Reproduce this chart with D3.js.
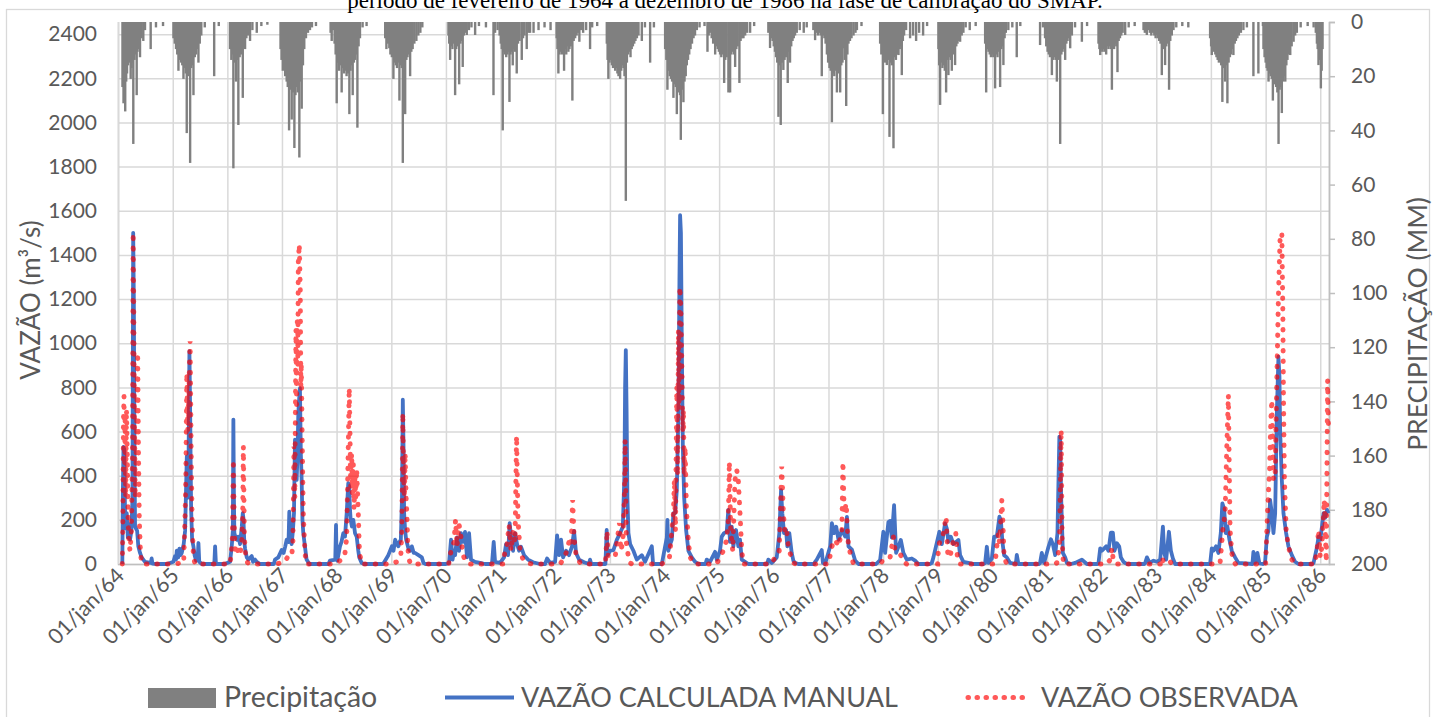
<!DOCTYPE html>
<html>
<head>
<meta charset="utf-8">
<script src="https://cdn.jsdelivr.net/npm/d3@7"></script>
<style>
  body { margin: 0; background: #fff; }
  svg { display: block; }
  text { font-family: Lato, "Open Sans", sans-serif; fill: #595959; }
</style>
</head>
<body>
<div id="grafico"></div>
<script>
// titulo (cortado no topo da figura original)
const titulo = "período de fevereiro de 1964 a dezembro de 1986 na fase de calibração do SMAP.";

// rotulos do eixo x (um por ano)
const anosEixo = [64, 65, 66, 67, 68, 69, 70, 71, 72, 73, 74, 75, 76, 77, 78, 79, 80, 81, 82, 83, 84, 85, 86];
const rotulosX = anosEixo.map((a) => "01/jan/" + a);
const ticksVazao = [0, 200, 400, 600, 800, 1000, 1200, 1400, 1600, 1800, 2000, 2200, 2400];
const ticksPrecip = [0, 20, 40, 60, 80, 100, 120, 140, 160, 180, 200];

// precipitação diária (ano decimal desde 1900, mm)
const precipitacao = [
  [64.082,24],[64.101,30],[64.119,20],[64.132,33],[64.150,22],[64.165,19],[64.183,16],[64.201,15],[64.232,21],[64.247,17],[64.265,15],[64.280,45],[64.302,14],[64.320,12],[64.342,27],[64.357,11],[64.375,10],[64.403,13],[64.430,6],[64.463,7],[64.494,3],[64.598,10],[64.695,2],[64.824,1.5],
  [65.013,6],[65.037,8],[65.060,10],[65.082,12],[65.104,18],[65.128,14],[65.152,15],[65.174,16],[65.196,21],[65.220,17],[65.238,19],[65.256,41],[65.278,20],[65.298,19],[65.318,52],[65.339,17],[65.359,16],[65.379,27],[65.403,13],[65.426,12],[65.448,10],[65.470,15],[65.494,8],[65.522,5],[65.586,2],[65.758,20],[65.842,1.5],
  [66.049,10],[66.073,14],[66.092,12],[66.110,54],[66.132,15],[66.159,22],[66.179,14],[66.201,38],[66.225,13],[66.247,12],[66.265,11],[66.282,28],[66.302,9],[66.324,10],[66.348,6],[66.375,5],[66.415,7],[66.458,3],[66.538,4],[66.622,1.5],[66.732,1],
  [66.973,10],[66.991,14],[67.015,18],[67.037,17],[67.059,20],[67.086,22],[67.106,24],[67.130,40],[67.152,25],[67.178,36],[67.201,26],[67.227,46.5],[67.247,27],[67.269,24],[67.289,26],[67.318,50],[67.339,22],[67.361,32],[67.384,16],[67.408,10],[67.439,6],[67.476,4],[67.512,3],[67.549,2],[67.622,1.5],
  [67.890,4],[67.910,7],[67.936,3],[67.963,8],[67.982,12],[68.002,30],[68.024,15],[68.046,18],[68.070,16],[68.093,26],[68.115,17],[68.137,19],[68.161,18],[68.183,20],[68.207,19],[68.234,34],[68.256,18],[68.275,16],[68.295,27],[68.317,15],[68.339,14],[68.361,12],[68.381,39],[68.403,9],[68.428,6],[68.476,2],[68.549,1.5],
  [68.890,6],[68.912,10],[68.936,8],[68.965,9.7],[68.985,12],[69.009,13],[69.038,21],[69.060,15],[69.082,16],[69.104,17],[69.126,15],[69.148,29],[69.170,16],[69.190,17],[69.210,52],[69.231,15],[69.253,34],[69.275,14],[69.296,13],[69.320,12],[69.344,20],[69.366,11],[69.390,10],[69.421,8],[69.458,7],[69.494,5],[69.531,4],[69.567,2],
  [70.046,5],[70.060,8],[70.077,14],[70.097,9],[70.119,10],[70.141,8],[70.168,27],[70.188,10],[70.210,9],[70.242,23],[70.265,8],[70.287,7],[70.307,16.6],[70.329,5],[70.357,4],[70.381,4.8],[70.421,3],[70.467,2],[70.534,4.8],[70.604,1.5],[70.732,2],
  [70.870,27],[70.899,4],[70.945,3],[70.982,5],[71.004,8],[71.022,10],[71.040,40],[71.060,11],[71.082,12],[71.104,13],[71.126,12],[71.146,11],[71.163,29.5],[71.183,12],[71.203,11],[71.223,16],[71.243,10],[71.265,11],[71.284,9],[71.296,19],[71.320,8],[71.348,7],[71.388,14],[71.412,6],[71.439,5],[71.479,10],[71.512,4],[71.540,4],[71.604,4],[71.695,3],[71.805,2],[71.915,3],
  [72.027,6],[72.042,10],[72.059,19],[72.079,12],[72.101,11],[72.123,12],[72.143,11],[72.163,18],[72.183,10],[72.203,12],[72.223,9],[72.242,11],[72.262,10],[72.284,9],[72.298,8],[72.315,29],[72.339,7],[72.366,6],[72.393,5],[72.421,4],[72.443,7.3],[72.476,3],[72.512,4],[72.567,3],[72.639,10],[72.677,2],[72.769,1.5],
  [72.945,8],[72.960,14],[72.974,21],[72.995,15],[73.015,14],[73.037,16],[73.057,17],[73.077,15],[73.097,18],[73.117,17],[73.137,19],[73.157,20],[73.187,21],[73.207,18],[73.227,16],[73.247,17],[73.267,20],[73.291,66],[73.311,15],[73.333,12],[73.355,11],[73.377,13],[73.399,10],[73.421,9],[73.445,8],[73.467,7],[73.494,6],[73.523,5],[73.584,7],[73.641,2],[73.736,15],[73.805,2],
  [74.011,10],[74.033,14],[74.053,25],[74.073,18],[74.095,20],[74.117,21],[74.139,22],[74.163,28],[74.183,23],[74.205,24],[74.225,34],[74.245,25],[74.265,26],[74.284,27],[74.298,43.5],[74.320,25],[74.346,29.6],[74.366,22],[74.388,20],[74.408,16],[74.430,14],[74.452,12],[74.476,10],[74.503,8],[74.531,6],[74.558,5],[74.591,3],[74.641,2],[74.732,1.5],[74.824,1],
  [74.786,11],[74.808,5],[74.835,4],[74.863,6],[74.890,8],[74.927,12],[74.949,9],[74.973,10],[74.995,11],[75.018,12],[75.040,13],[75.064,12],[75.092,22.5],[75.113,14],[75.137,13],[75.170,26],[75.187,14],[75.201,26],[75.223,12],[75.247,11],[75.271,12],[75.293,16.6],[75.315,10],[75.339,9],[75.371,22.5],[75.393,7],[75.421,6],[75.445,6],[75.476,5],[75.512,4],[75.567,4],[75.641,1.5],
  [75.901,4],[75.932,9.6],[75.954,6],[75.978,7],[76.000,9],[76.022,11],[76.042,13],[76.064,15],[76.086,35],[76.108,16],[76.128,38],[76.152,15],[76.176,17.7],[76.198,14],[76.220,13],[76.238,12],[76.256,22.5],[76.278,11],[76.298,15],[76.320,9],[76.344,7],[76.366,6],[76.390,5],[76.421,4],[76.476,3],[76.549,4],[76.604,2],
  [76.725,3],[76.757,6.7],[76.780,4],[76.808,5],[76.835,4],[76.857,5],[76.879,20],[76.903,5],[76.927,6],[76.949,8],[76.973,12],[76.995,15],[77.018,17],[77.040,18],[77.062,37],[77.084,19],[77.106,20],[77.128,18],[77.154,26],[77.176,17],[77.196,19],[77.214,26],[77.234,16],[77.256,15],[77.275,9.7],[77.298,14],[77.324,31],[77.346,12],[77.366,8],[77.393,7],[77.421,6],[77.458,5],[77.494,4],[77.520,3],[77.604,1.5],
  [77.945,8],[77.967,12],[77.995,34],[78.015,14],[78.037,15],[78.055,13],[78.068,15.9],[78.088,14],[78.117,42.4],[78.137,15],[78.159,16],[78.174,14],[78.190,46.6],[78.212,13],[78.234,14],[78.256,12],[78.282,12.2],[78.304,10],[78.322,9],[78.342,19.6],[78.362,7],[78.384,5],[78.421,3],[78.494,6],[78.549,5],[78.604,7],[78.659,4],[78.732,5],[78.805,1.5],
  [79.013,10],[79.027,16],[79.044,30.6],[79.064,15],[79.086,17],[79.108,16],[79.130,18],[79.154,26],[79.174,14],[79.196,19.6],[79.216,13],[79.238,14],[79.258,18],[79.278,11],[79.298,12],[79.318,15.9],[79.340,9],[79.362,8],[79.384,7],[79.410,7.3],[79.439,5],[79.470,4],[79.512,2],[79.586,3],[79.695,1.5],
  [79.868,8],[79.887,26],[79.908,10],[79.930,11],[79.952,12],[79.974,13],[79.996,12],[80.018,13],[80.037,12],[80.051,24.5],[80.073,12],[80.095,13],[80.119,11],[80.143,24],[80.165,10],[80.183,9],[80.203,15.9],[80.225,6],[80.247,4],[80.293,3],[80.366,2],[80.447,13],[80.512,1.5],
  [80.874,8.5],[80.927,2],[80.965,6],[80.987,9],[81.009,11],[81.031,12],[81.053,13],[81.071,12],[81.088,19.6],[81.110,14],[81.132,13],[81.156,14],[81.179,22],[81.201,14],[81.220,13],[81.240,45],[81.262,12],[81.284,11],[81.307,10],[81.331,14],[81.353,8],[81.375,7],[81.399,6],[81.423,9.7],[81.454,5],[81.512,2],[81.637,7.3],[81.732,1.5],
  [81.941,8],[81.958,10],[81.973,12.2],[81.991,10],[82.011,11],[82.031,10],[82.051,11],[82.066,10],[82.082,12],[82.102,9],[82.123,10],[82.143,9],[82.165,10],[82.187,25],[82.207,9],[82.227,10],[82.247,8],[82.267,9],[82.289,18.5],[82.311,7],[82.335,6],[82.359,5],[82.384,4],[82.430,4.8],[82.494,2],[82.604,1.5],
  [82.766,3],[82.790,4],[82.826,4.8],[82.854,3],[82.881,4],[82.908,5],[82.936,4],[82.963,5],[82.987,6],[83.009,4.8],[83.031,6],[83.053,7],[83.077,8],[83.101,19.6],[83.121,9],[83.141,10],[83.161,15.9],[83.183,9],[83.207,8],[83.234,25],[83.256,7],[83.284,5],[83.315,3],[83.366,2],[83.476,1.5],[83.586,2],
  [83.985,6],[84.004,9],[84.016,12.2],[84.037,10],[84.059,11],[84.081,12],[84.102,13],[84.124,14],[84.146,15],[84.168,12.2],[84.188,16],[84.210,29.5],[84.232,17],[84.260,22],[84.280,16],[84.302,30],[84.324,15],[84.348,13],[84.370,12],[84.390,10],[84.412,12.2],[84.436,8],[84.458,7],[84.485,6],[84.512,5],[84.549,4],[84.595,3],[84.659,2],[84.778,20],[84.869,19],[84.952,1.5],
  [84.962,10],[84.982,13],[85.000,15],[85.018,17],[85.035,18],[85.053,22],[85.071,19],[85.092,20],[85.112,21],[85.132,29],[85.152,22],[85.172,23],[85.192,24],[85.214,26],[85.236,45],[85.256,25],[85.276,24],[85.296,33.6],[85.317,22],[85.337,20],[85.359,22],[85.379,16],[85.399,14],[85.421,12],[85.450,12.2],[85.476,9],[85.511,7.3],[85.540,5],[85.571,4],[85.641,2],[85.769,1.5],[85.878,2],
  [85.918,4],[85.938,8],[85.952,10],[85.967,15.9],[85.982,12],[85.996,14],[86.011,24.5],[86.026,18],[86.042,10]
];

// vazão calculada manualmente (ano decimal, m³/s)
const vazaoCalculada = [
  [64.079,0],[64.090,350],[64.100,530],[64.115,520],[64.128,250],[64.145,160],[64.160,230],[64.180,120],[64.200,180],[64.220,110],[64.245,150],[64.265,300],[64.278,1500],[64.290,1200],[64.300,600],[64.312,170],[64.330,160],[64.350,150],[64.372,80],[64.403,50],[64.433,30],[64.494,10],[64.600,5],[64.616,25],[64.630,2],[64.707,0],
  [64.900,0],[65.012,10],[65.040,35],[65.060,20],[65.074,60],[65.100,30],[65.122,70],[65.140,40],[65.165,50],[65.200,90],[65.226,150],[65.257,487],[65.275,300],[65.290,490],[65.305,964],[65.318,700],[65.336,250],[65.354,110],[65.378,80],[65.400,40],[65.427,15],[65.455,20],[65.470,95],[65.485,10],[65.531,0],[65.760,0],[65.775,80],[65.790,0],
  [65.950,0],[66.050,10],[66.080,80],[66.100,150],[66.110,654],[66.120,300],[66.128,140],[66.150,120],[66.172,110],[66.200,124],[66.232,90],[66.264,170],[66.282,230],[66.293,210],[66.310,100],[66.324,70],[66.355,30],[66.385,20],[66.446,36],[66.470,10],[66.507,20],[66.537,10],[66.597,0],
  [66.850,0],[66.872,20],[66.932,30],[66.995,64],[67.030,50],[67.060,80],[67.086,110],[67.120,100],[67.134,237],[67.150,120],[67.177,90],[67.200,150],[67.220,230],[67.238,563],[67.250,400],[67.269,381],[67.285,500],[67.299,684],[67.315,750],[67.329,797],[67.345,500],[67.360,381],[67.375,200],[67.390,140],[67.420,80],[67.450,20],[67.500,0],
  [67.850,0],[67.879,15],[67.975,20],[67.989,177],[68.000,30],[68.013,15],[68.062,80],[68.090,100],[68.123,140],[68.154,124],[68.185,230],[68.214,366],[68.232,350],[68.245,250],[68.258,200],[68.280,170],[68.306,200],[68.337,140],[68.368,124],[68.397,60],[68.415,30],[68.459,5],[68.500,0],
  [68.850,0],[68.887,15],[68.947,40],[69.009,80],[69.040,60],[69.070,110],[69.100,90],[69.130,80],[69.150,100],[69.174,110],[69.195,300],[69.210,744],[69.225,500],[69.234,230],[69.253,150],[69.271,110],[69.313,70],[69.345,60],[69.375,80],[69.410,50],[69.436,50],[69.496,40],[69.558,30],[69.588,5],[69.620,0],
  [70.000,0],[70.057,5],[70.093,110],[70.121,20],[70.148,60],[70.167,40],[70.203,120],[70.240,60],[70.276,140],[70.313,100],[70.349,145],[70.386,30],[70.423,140],[70.459,20],[70.532,10],[70.624,5],[70.716,0],
  [70.808,0],[70.844,5],[70.874,100],[70.899,10],[70.991,5],[71.064,30],[71.101,90],[71.137,40],[71.167,185],[71.192,120],[71.229,60],[71.265,140],[71.302,90],[71.339,60],[71.375,78],[71.430,40],[71.503,20],[71.595,8],[71.723,0],
  [71.815,0],[71.852,25],[71.907,5],[71.998,10],[72.035,130],[72.071,40],[72.108,110],[72.145,30],[72.200,60],[72.254,40],[72.309,80],[72.346,150],[72.382,50],[72.437,20],[72.529,8],[72.620,0],[72.638,20],[72.660,0],
  [72.920,0],[72.943,154],[72.960,40],[73.004,60],[73.064,63],[73.126,109],[73.187,140],[73.236,169],[73.265,400],[73.278,800],[73.291,969],[73.305,700],[73.320,300],[73.339,140],[73.370,90],[73.430,60],[73.492,20],[73.584,40],[73.644,10],[73.767,80],[73.790,0],
  [73.950,0],[74.011,80],[74.042,120],[74.053,200],[74.070,60],[74.090,80],[74.134,110],[74.163,230],[74.194,230],[74.225,335],[74.254,684],[74.273,1286],[74.285,1580],[74.300,1500],[74.317,983],[74.335,530],[74.359,303],[74.395,154],[74.437,60],[74.500,30],[74.560,10],[74.620,0],
  [74.750,0],[74.773,20],[74.833,10],[74.925,55],[74.956,20],[75.016,60],[75.048,124],[75.090,140],[75.139,146],[75.168,245],[75.199,100],[75.231,169],[75.260,80],[75.309,154],[75.351,80],[75.382,110],[75.414,20],[75.474,10],[75.534,0],
  [75.880,0],[75.901,20],[75.963,5],[76.055,30],[76.102,139],[76.134,335],[76.157,230],[76.188,140],[76.225,154],[76.249,80],[76.285,140],[76.329,50],[76.359,15],[76.390,5],[76.450,0],
  [76.740,0],[76.757,10],[76.788,20],[76.879,63],[76.900,5],[76.940,0],[77.031,80],[77.062,185],[77.104,140],[77.141,169],[77.183,110],[77.245,154],[77.306,124],[77.337,213],[77.366,80],[77.428,65],[77.489,15],[77.549,0],
  [77.872,0],[77.945,18],[78.005,146],[78.037,50],[78.097,190],[78.128,195],[78.159,120],[78.201,267],[78.238,50],[78.280,78],[78.324,109],[78.371,50],[78.434,20],[78.525,25],[78.586,15],[78.646,0],
  [78.860,0],[78.892,5],[78.921,30],[79.031,146],[79.075,90],[79.135,184],[79.167,160],[79.196,100],[79.240,124],[79.287,90],[79.379,109],[79.410,40],[79.470,10],[79.562,5],[79.653,0],
  [79.840,0],[79.868,5],[79.899,78],[79.929,5],[79.991,25],[80.033,124],[80.082,124],[80.130,214],[80.156,200],[80.185,100],[80.216,40],[80.265,30],[80.327,5],[80.430,0],[80.448,41],[80.478,0],
  [80.860,0],[80.874,5],[80.905,50],[80.947,5],[81.026,78],[81.070,112],[81.106,90],[81.148,40],[81.190,140],[81.225,577],[81.240,560],[81.258,300],[81.289,50],[81.331,30],[81.362,5],[81.436,0],[81.514,5],[81.637,20],[81.728,0],
  [81.920,0],[81.941,5],[81.973,71],[82.004,60],[82.046,71],[82.082,80],[82.124,60],[82.168,142],[82.205,142],[82.234,60],[82.278,94],[82.320,80],[82.351,30],[82.399,10],[82.461,0],
  [82.780,0],[82.797,5],[82.828,30],[82.876,5],[82.949,15],[83.011,10],[83.071,20],[83.121,169],[83.145,50],[83.181,20],[83.231,146],[83.267,60],[83.304,25],[83.346,0],
  [83.985,0],[84.016,71],[84.046,60],[84.095,80],[84.137,50],[84.181,140],[84.210,275],[84.242,250],[84.273,140],[84.302,170],[84.339,110],[84.382,60],[84.443,30],[84.503,5],[84.760,0],[84.778,55],[84.809,5],[84.851,50],[84.888,3],[84.950,0],
  [84.991,5],[85.022,124],[85.051,150],[85.082,290],[85.113,230],[85.143,140],[85.174,230],[85.205,684],[85.234,939],[85.253,850],[85.265,607],[85.296,381],[85.326,230],[85.375,140],[85.417,80],[85.479,40],[85.540,10],[85.600,0],
  [85.850,0],[85.877,5],[85.940,78],[85.969,124],[86.000,110],[86.031,169],[86.060,230],[86.092,210],[86.123,245],[86.152,230]
];

// vazão observada (ano decimal, m³/s)
const vazaoObservada = [
  [64.079,0],[64.090,200],[64.100,650],[64.110,760],[64.120,420],[64.130,650],[64.140,300],[64.155,700],[64.170,500],[64.185,200],[64.200,100],[64.220,60],[64.245,150],[64.265,500],[64.278,1500],[64.290,1100],[64.300,700],[64.315,300],[64.340,600],[64.360,956],[64.375,500],[64.390,200],[64.410,60],[64.430,5],[64.500,0],
  [65.000,0],[65.200,5],[65.226,230],[65.240,400],[65.257,865],[65.275,600],[65.285,750],[65.293,650],[65.305,900],[65.318,1009],[65.336,532],[65.354,200],[65.378,30],[65.410,0],
  [66.050,0],[66.090,100],[66.110,472],[66.125,200],[66.140,50],[66.172,70],[66.230,40],[66.264,100],[66.282,230],[66.293,532],[66.310,150],[66.324,60],[66.355,10],[66.400,0],
  [66.900,0],[67.050,10],[67.100,30],[67.177,33],[67.200,100],[67.220,532],[67.235,300],[67.256,1062],[67.268,700],[67.280,1100],[67.290,900],[67.299,1365],[67.317,1448],[67.335,1244],[67.345,800],[67.353,911],[67.372,532],[67.390,230],[67.420,50],[67.450,0],
  [67.950,0],[68.100,20],[68.154,50],[68.185,120],[68.214,532],[68.232,797],[68.245,600],[68.258,350],[68.276,502],[68.290,300],[68.306,457],[68.320,250],[68.337,411],[68.350,300],[68.368,430],[68.397,230],[68.415,80],[68.428,40],[68.460,0],
  [69.000,0],[69.100,10],[69.174,40],[69.192,150],[69.210,684],[69.225,400],[69.240,300],[69.253,502],[69.270,300],[69.284,230],[69.300,100],[69.313,30],[69.350,0],
  [70.050,0],[70.093,60],[70.148,100],[70.176,200],[70.203,80],[70.240,180],[70.276,120],[70.313,40],[70.368,10],[70.441,0],
  [71.046,0],[71.082,60],[71.119,90],[71.156,176],[71.192,60],[71.229,150],[71.265,100],[71.293,580],[71.320,200],[71.357,60],[71.412,20],[71.485,5],[71.576,0],
  [72.090,0],[72.145,20],[72.200,50],[72.254,100],[72.291,80],[72.320,290],[72.346,120],[72.382,40],[72.456,5],[72.547,0],
  [72.920,0],[72.950,150],[72.970,30],[73.100,40],[73.174,185],[73.200,60],[73.236,100],[73.265,300],[73.278,561],[73.291,300],[73.300,100],[73.339,30],[73.370,5],[73.400,0],
  [73.950,0],[74.042,20],[74.090,30],[74.163,230],[74.181,381],[74.200,150],[74.225,802],[74.240,400],[74.254,1060],[74.265,700],[74.280,1255],[74.300,1150],[74.322,833],[74.335,600],[74.346,700],[74.360,400],[74.377,530],[74.400,250],[74.437,100],[74.470,30],[74.529,5],[74.560,0],
  [74.950,0],[75.016,30],[75.077,60],[75.139,110],[75.168,200],[75.187,463],[75.212,150],[75.249,60],[75.291,380],[75.322,426],[75.351,380],[75.382,230],[75.414,60],[75.443,0],
  [75.950,0],[76.100,60],[76.146,441],[76.176,230],[76.207,140],[76.238,154],[76.267,80],[76.298,50],[76.359,5],[76.400,0],
  [77.000,0],[77.062,80],[77.123,110],[77.183,80],[77.245,150],[77.264,463],[77.287,230],[77.324,275],[77.355,110],[77.397,50],[77.458,0],
  [77.950,0],[78.000,20],[78.128,30],[78.188,124],[78.220,60],[78.280,50],[78.324,40],[78.371,10],[78.430,0],
  [79.000,0],[79.013,70],[79.044,110],[79.093,125],[79.154,214],[79.185,40],[79.227,30],[79.258,80],[79.331,139],[79.361,30],[79.410,0],
  [80.050,0],[80.082,80],[80.112,140],[80.130,100],[80.156,200],[80.174,290],[80.192,200],[80.216,30],[80.265,0],
  [81.150,0],[81.179,5],[81.227,80],[81.258,607],[81.276,100],[81.300,0],
  [82.100,0],[82.156,20],[82.187,71],[82.216,10],[82.289,0],
  [83.080,0],[83.102,30],[83.132,10],[83.223,20],[83.285,0],
  [84.150,0],[84.168,5],[84.218,154],[84.260,230],[84.291,531],[84.320,765],[84.339,380],[84.351,154],[84.382,50],[84.412,10],[84.450,0],
  [85.000,0],[85.033,230],[85.070,412],[85.095,652],[85.113,743],[85.143,380],[85.174,412],[85.205,833],[85.234,1210],[85.265,1482],[85.296,1500],[85.315,1135],[85.326,757],[85.344,380],[85.375,154],[85.417,80],[85.479,20],[85.550,0],
  [85.900,0],[85.940,60],[85.969,154],[86.000,30],[86.031,80],[86.073,290],[86.110,10],[86.134,833],[86.152,600]
];

const largura = 1440, altura = 717;
const margem = { top: 22, right: 111, bottom: 153, left: 118 };

const anoParaData = (a) => {
  const ano = Math.floor(a);
  return new Date(Date.UTC(1900 + ano, 0, 1) + (a - ano) * 365.25 * 864e5);
};

const svg = d3.select("#grafico").append("svg")
  .attr("width", largura).attr("height", altura);

// moldura do gráfico
svg.append("rect")
  .attr("x", 6.5).attr("y", 9.5).attr("width", 1423).attr("height", 720)
  .attr("fill", "none").attr("stroke", "#d9d9d9").attr("stroke-width", 1.3);

// titulo (parte de cima cortada, como na figura)
svg.append("text")
  .attr("x", 725).attr("y", 8)
  .attr("text-anchor", "middle")
  .style("font-family", "'Liberation Serif', serif")
  .style("font-size", "23px")
  .style("fill", "#000")
  .text(titulo);

const x = d3.scaleUtc()
  .domain([anoParaData(64), anoParaData(86.16)])
  .range([margem.left, largura - margem.right]);

const yV = d3.scaleLinear().domain([0, 2455]).range([altura - margem.bottom, margem.top]);
const yP = d3.scaleLinear().domain([0, 200]).range([margem.top, altura - margem.bottom]);

const larguraPlot = largura - margem.right - margem.left;
const alturaPlot = altura - margem.bottom - margem.top;

// grade horizontal + eixo esquerdo
const eixoY = svg.append("g")
  .attr("transform", `translate(${margem.left},0)`)
  .call(d3.axisLeft(yV).tickValues(ticksVazao).tickFormat(d3.format("d"))
    .tickSize(-larguraPlot).tickPadding(21));
eixoY.select(".domain").remove();
eixoY.selectAll("line").attr("stroke", "#d9d9d9").attr("stroke-width", 1.5);
eixoY.selectAll("text").style("font-size", "21px").attr("fill", "#595959");

// grade vertical + eixo x
const eixoX = svg.append("g")
  .attr("transform", `translate(0,${altura - margem.bottom})`)
  .call(d3.axisBottom(x)
    .tickValues(anosEixo.map((a) => anoParaData(a)))
    .tickSize(-alturaPlot)
    .tickFormat((d, i) => rotulosX[i]));
eixoX.select(".domain").attr("stroke", "#bfbfbf").attr("stroke-width", 1.5);
eixoX.selectAll("line").attr("stroke", "#d9d9d9").attr("stroke-width", 1.5);
eixoX.selectAll("text")
  .style("font-size", "21.5px")
  .attr("fill", "#595959")
  .attr("text-anchor", "end")
  .attr("dy", null)
  .attr("y", 0)
  .attr("transform", "translate(7,13) rotate(-45)");

// eixo direito (precipitação, invertido)
const eixoP = svg.append("g")
  .attr("transform", `translate(${largura - margem.right},0)`)
  .call(d3.axisRight(yP).tickValues(ticksPrecip).tickSize(6).tickPadding(16));
eixoP.select(".domain").attr("stroke", "#bfbfbf").attr("stroke-width", 1.5);
eixoP.selectAll("line").attr("stroke", "#bfbfbf").attr("stroke-width", 1.5);
eixoP.selectAll("text").style("font-size", "21px").attr("fill", "#595959");

// barras de precipitação penduradas no topo
svg.append("g")
  .selectAll("rect")
  .data(precipitacao)
  .join("rect")
  .attr("x", (d) => x(anoParaData(d[0])) - 1.2)
  .attr("y", yP(0))
  .attr("width", 2.4)
  .attr("height", (d) => yP(d[1]) - yP(0))
  .attr("fill", "#808080");

const linha = d3.line()
  .x((d) => x(anoParaData(d[0])))
  .y((d) => yV(d[1]));

svg.append("path")
  .datum(vazaoCalculada)
  .attr("d", linha)
  .attr("fill", "none")
  .attr("stroke", "#4472c4")
  .attr("stroke-width", 3.8)
  .attr("stroke-linejoin", "round");

svg.append("path")
  .datum(vazaoObservada)
  .attr("d", linha)
  .attr("fill", "none")
  .attr("stroke", "#ff0000")
  .attr("stroke-opacity", 0.65)
  .attr("stroke-width", 5)
  .attr("stroke-linecap", "round")
  .attr("stroke-dasharray", "0.5 10");

// títulos dos eixos
svg.append("text")
  .attr("transform", "translate(40,300) rotate(-90)")
  .attr("text-anchor", "middle")
  .style("font-size", "26px")
  .text("VAZÃO (m³/s)");

svg.append("text")
  .attr("transform", "translate(1427,324) rotate(-90)")
  .attr("text-anchor", "middle")
  .style("font-size", "26.5px")
  .text("PRECIPITAÇÃO (MM)");

// legenda
const leg = svg.append("g");
leg.append("rect").attr("x", 148).attr("y", 688).attr("width", 68).attr("height", 20).attr("fill", "#808080");
leg.append("text").attr("x", 224).attr("y", 707).style("font-size", "28.5px").text("Precipitação");
leg.append("line").attr("x1", 445).attr("x2", 514).attr("y1", 697.5).attr("y2", 697.5)
  .attr("stroke", "#4472c4").attr("stroke-width", 3.8);
leg.append("text").attr("x", 521).attr("y", 707).style("font-size", "27px").text("VAZÃO CALCULADA MANUAL");
leg.append("line").attr("x1", 968).attr("x2", 1025).attr("y1", 697.5).attr("y2", 697.5)
  .attr("stroke", "#ff0000").attr("stroke-opacity", 0.65).attr("stroke-width", 5)
  .attr("stroke-linecap", "round").attr("stroke-dasharray", "0.5 8.5");
leg.append("text").attr("x", 1041).attr("y", 707).style("font-size", "27px").text("VAZÃO OBSERVADA");
</script>
</body>
</html>
